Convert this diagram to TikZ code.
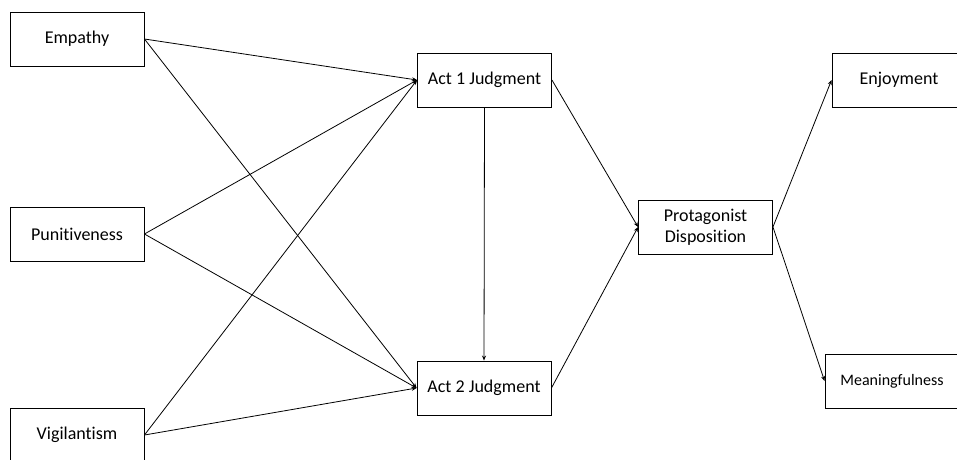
\documentclass[tikz,border=0pt]{standalone}
\usepackage{fontspec}
\setmainfont[Ligatures={NoCommon}]{Carlito}
\usetikzlibrary{arrows.meta}
\tikzset{%
    Dbox/.style={draw, line width=0.9pt, minimum width=134pt, minimum height=54pt,
        inner sep=2pt, align=center, font=\fontsize{18}{21}\selectfont},
    Dline/.style={line width=0.8pt, -{Stealth[length=5pt,width=4pt]}}
}
\begin{document}
\begin{tikzpicture}[x=1pt,y=-1pt]
    \useasboundingbox (0,0) rectangle (957,459);
    % fixed positions of the boxes
    \path
        (77,39)    node [Dbox] (Nemp) {Empathy}
        (77,234)   node [Dbox] (Npun) {Punitiveness}
        (77,435)   node [Dbox] (Nvig) {Vigilantism}
        (484.5,80) node [Dbox] (Nact1) {Act 1 Judgment}
        (484,388)  node [Dbox] (Nact2) {Act 2 Judgment}
        (705.5,227) node [Dbox] (Npro) {Protagonist\\Disposition}
        (899,80)   node [Dbox] (Nenj) {Enjoyment}
        (892,381)  node [Dbox, font=\fontsize{16}{19}\selectfont] (Nmea) {Meaningfulness};

    % predictors to both judgments
    \foreach \cA in {Nemp,Npun,Nvig}
        \foreach \cB in {Nact1,Nact2}
            \draw [Dline] (\cA.east) -- (\cB.west);

    % judgments to disposition and outcomes
    \draw [Dline] (Nact1.south) -- (Nact2.north);
    \foreach \cA/\cB in {Nact1/Npro, Nact2/Npro, Npro/Nenj, Npro/Nmea}
        \draw [Dline] (\cA.east) -- (\cB.west);
\end{tikzpicture}
\end{document}
